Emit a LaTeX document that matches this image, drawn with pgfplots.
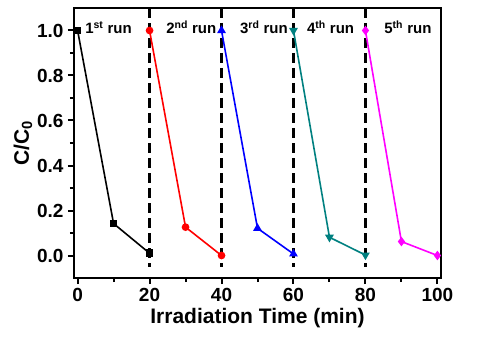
\documentclass[border=0pt]{standalone}
\usepackage{fontspec}
\setmainfont{Liberation Sans}
\usepackage{pgfplots}
\pgfplotsset{compat=1.18}
\definecolor{tealc}{RGB}{0,128,128}
\definecolor{magc}{RGB}{255,0,255}
\definecolor{redc}{RGB}{255,0,0}
\definecolor{bluec}{RGB}{0,0,255}
\begin{document}
\begin{tikzpicture}
\begin{axis}[
  scale only axis, width=367pt, height=270pt,
  xmin=-1, xmax=101, ymin=-0.1, ymax=1.1,
  xtick={0,20,40,60,80,100}, ytick={0,0.2,0.4,0.6,0.8,1.0},
  minor x tick num=1, minor y tick num=1,
  tick pos=left, tick align=outside,
  major tick length=6pt, minor tick length=4pt,
  every tick/.style={line width=2pt, black},
  axis line style={line width=2.5pt},
  /pgf/number format/assume math mode=true,
  /pgf/number format/fixed, /pgf/number format/fixed zerofill,
  yticklabel style={/pgf/number format/precision=1, xshift=-1pt},
  xticklabel style={/pgf/number format/precision=0, /pgf/number format/fixed zerofill=false, yshift=-1pt},
  tick label style={font=\fontsize{19}{22}\selectfont\bfseries},
  xlabel={Irradiation Time (min)}, ylabel={C/C$_{\mathbf{0}}$},
  label style={font=\fontsize{21}{25}\selectfont\bfseries},
  xlabel style={yshift=1pt},
  ylabel style={yshift=-2pt},
  clip=false,
]
\addplot[black, line width=3pt, dash pattern=on 10pt off 5pt] coordinates {(20,1.1) (20,-0.053)};
\addplot[black, line width=3pt, dash pattern=on 10pt off 5pt] coordinates {(40,1.1) (40,-0.053)};
\addplot[black, line width=3pt, dash pattern=on 10pt off 5pt] coordinates {(60,1.1) (60,-0.053)};
\addplot[black, line width=3pt, dash pattern=on 10pt off 5pt] coordinates {(80,1.1) (80,-0.053)};
\addplot[black, line width=1.6pt, mark=square*, mark size=3pt] coordinates {(0,1) (10,0.142) (20,0.01)};
\addplot[redc, line width=1.6pt, mark=*, mark size=3pt] coordinates {(20,1) (30,0.126) (40,0.0)};
\addplot[bluec, line width=1.6pt, mark=triangle*, mark size=3.5pt] coordinates {(40,1) (50,0.121) (60,0.007)};
\addplot[tealc, line width=1.6pt, mark=triangle*, mark size=3.5pt, mark options={rotate=180}] coordinates {(60,1) (70,0.081) (80,0.002)};
\addplot[magc, line width=1.6pt, mark=diamond*, mark size=3.5pt] coordinates {(80,1) (90,0.062) (100,0.0)};
\begin{scope}[every node/.style={font=\fontsize{15}{17}\selectfont\bfseries}]
\node at (axis cs:8.6,1.013) {1\textsuperscript{st} run};
\node at (axis cs:31.6,1.013) {2\textsuperscript{nd} run};
\node at (axis cs:51.8,1.013) {3\textsuperscript{rd} run};
\node at (axis cs:70.3,1.013) {4\textsuperscript{th} run};
\node at (axis cs:91.8,1.013) {5\textsuperscript{th} run};
\end{scope}
\end{axis}
\pgfresetboundingbox
\path[use as bounding box] ([xshift=-74pt,yshift=-62pt]current axis.south west) rectangle ([xshift=37pt,yshift=8pt]current axis.north east);
\end{tikzpicture}
\end{document}
